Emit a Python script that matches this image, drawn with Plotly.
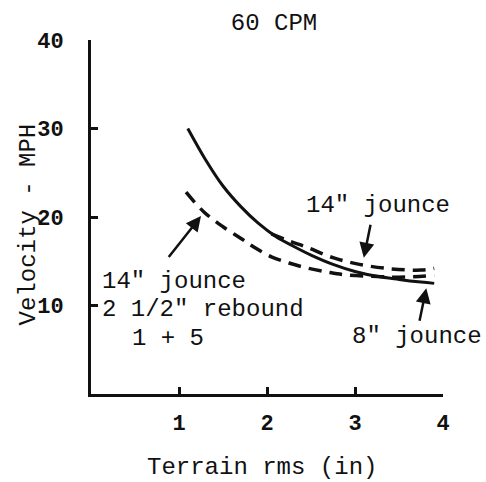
import plotly.graph_objects as go

# Solid curve: 8" jounce
solid_x = [1.1, 1.3, 1.5, 1.7, 1.9, 2.1, 2.3, 2.5, 2.75, 3.0, 3.25, 3.5, 3.75, 3.9]
solid_y = [30.0, 26.5, 23.5, 21.2, 19.3, 17.8, 16.7, 15.7, 14.65, 13.85, 13.3, 12.95, 12.65, 12.5]

# Upper dashed curve: 14" jounce
upper_x = [2.05, 2.25, 2.45, 2.75, 3.05, 3.4, 3.75, 3.9]
upper_y = [18.1, 17.3, 16.6, 15.4, 14.65, 14.15, 14.0, 14.2]

# Lower dashed curve: 14" jounce, 2 1/2" rebound, 1 + 5
lower_x = [1.08, 1.28, 1.5, 1.7, 1.85, 2.05, 2.25, 2.45, 2.7, 2.9, 3.2, 3.5, 3.9]
lower_y = [22.8, 20.6, 18.9, 17.6, 16.6, 15.5, 14.8, 14.25, 13.75, 13.45, 13.3, 13.2, 13.4]

x_ticks = [1, 2, 3, 4]
y_ticks = [10, 20, 30, 40]

FONT = "Liberation Mono, Courier New, monospace"
BLACK = "#111111"

fig = go.Figure()
fig.add_trace(go.Scatter(x=solid_x, y=solid_y, mode="lines", line=dict(color=BLACK, width=3, shape="spline"), name='8" jounce'))
fig.add_trace(go.Scatter(x=upper_x, y=upper_y, mode="lines", line=dict(color=BLACK, width=3.5, dash="13px,8px", shape="spline"), name='14" jounce'))
fig.add_trace(go.Scatter(x=lower_x, y=lower_y, mode="lines", line=dict(color=BLACK, width=3.5, dash="13px,8px", shape="spline"), name='14" jounce 2 1/2" rebound'))

ann = []
def text(x, y, t, xanchor="center", size=24, xref="x", yref="y", angle=0):
    ann.append(dict(x=x, y=y, xref=xref, yref=yref, text=t, showarrow=False, xanchor=xanchor,
                    yanchor="middle", textangle=angle, font=dict(family=FONT, size=size, color=BLACK)))

def arrow(x, y, ax, ay):
    ann.append(dict(x=x, y=y, ax=ax, ay=ay, xref="x", yref="y", axref="x", ayref="y", text="",
                    showarrow=True, arrowhead=2, arrowsize=1.2, arrowwidth=2.5, arrowcolor=BLACK))

text(3.26, 21.3, '14" jounce')
text(0.10, 12.7, '14" jounce', xanchor="left")
text(0.10, 9.6, '2 1/2" rebound', xanchor="left")
text(0.44, 6.3, '1 + 5', xanchor="left")
text(3.71, 6.5, '8" jounce')
arrow(1.25, 20.1, 0.87, 15.3)
arrow(3.10, 15.4, 3.18, 19.3)
arrow(3.81, 11.95, 3.73, 8.1)

# axis titles
text(0.486, -0.209, "Terrain rms (in)", xref="paper", yref="paper")
text(-0.179, 0.479, "Velocity - MPH", xref="paper", yref="paper", angle=-90)

fig.update_layout(
    width=486, height=482,
    margin=dict(l=91, r=43, t=40, b=88),
    paper_bgcolor="white", plot_bgcolor="white",
    showlegend=False,
    title=dict(text="60 CPM", x=274 / 486, xanchor="center", y=1 - 22 / 482, yanchor="middle",
               font=dict(family=FONT, size=24, color=BLACK)),
    annotations=ann,
    xaxis=dict(range=[0, 4], tickvals=x_ticks, ticktext=[str(v) for v in x_ticks], automargin=False,
               showline=True, linewidth=3, linecolor=BLACK, ticks="inside", ticklen=7,
               tickwidth=3, tickcolor=BLACK, showgrid=False, zeroline=False,
               ticklabelstandoff=7, tickfont=dict(family=FONT, size=22, color=BLACK, weight="bold")),
    yaxis=dict(range=[0, 40], tickvals=y_ticks, ticktext=[str(v) for v in y_ticks], automargin=False,
               showline=True, linewidth=3, linecolor=BLACK, ticks="inside", ticklen=7,
               tickwidth=3, tickcolor=BLACK, showgrid=False, zeroline=False,
               ticklabelstandoff=20, tickfont=dict(family=FONT, size=22, color=BLACK, weight="bold")),
)

fig.write_html("out.html", config={"displayModeBar": False},
               post_script="document.body.style.margin='0';document.body.style.overflow='hidden';")
